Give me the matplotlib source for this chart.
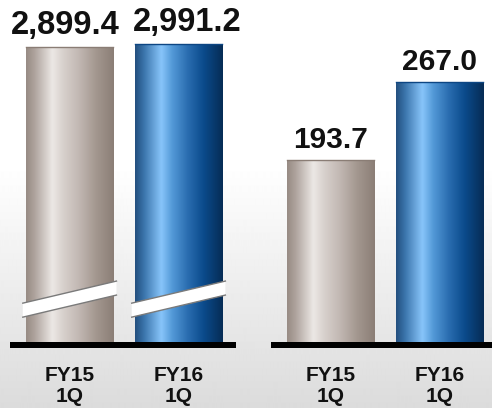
import numpy as np
import matplotlib
matplotlib.use("Agg")
import matplotlib.pyplot as plt
from matplotlib.colors import LinearSegmentedColormap
from matplotlib.patches import Polygon
from matplotlib.lines import Line2D
import matplotlib.transforms as mtransforms

# ---- data ----
categories = ["FY15\n1Q", "FY16\n1Q"]
left_values = [2899.4, 2991.2]     # broken-axis group
right_values = [193.7, 267.0]

# ---- style ----
plt.rcParams['font.family'] = ['Liberation Sans', 'DejaVu Sans']

gray_cmap = LinearSegmentedColormap.from_list("gray_cyl", [
    (0.00, '#978b84'), (0.10, '#afa49e'), (0.30, '#ece8e5'), (0.42, '#d8d1cd'),
    (0.60, '#c2b8b3'), (0.80, '#a3978f'), (1.00, '#8b7e76')])
blue_cmap = LinearSegmentedColormap.from_list("blue_cyl", [
    (0.00, '#234f7e'), (0.10, '#3a74ab'), (0.30, '#88c5fa'), (0.42, '#549ad8'),
    (0.60, '#2a6db0'), (0.78, '#0b4b8c'), (1.00, '#062c55')])
bar_cmaps = [gray_cmap, blue_cmap]
edge_cols = ['#8a7d75', '#0d4683']

W, H = 492, 408
fig = plt.figure(figsize=(W / 100, H / 100), dpi=100)

# background gradient
bg = fig.add_axes([0, 0, 1, 1], zorder=-10)
yy = np.arange(H)
shade = np.where(yy < 165, 1.0, 1.0 - (yy - 165) / (H - 165) * 0.14)
bg.imshow(np.tile(shade[:, None], (1, 2)), cmap='gray', vmin=0, vmax=1,
          aspect='auto', extent=[0, 1, 0, 1], interpolation='bilinear')
bg.set_axis_off()

ax_bottom = (H - 345) / H
ax_height = 345 / H
axL = fig.add_axes([13 / W, ax_bottom, 220 / W, ax_height])
axR = fig.add_axes([274 / W, ax_bottom, 220 / W, ax_height])

groups = [
    (axL, left_values, (-6220, 4337), True, 23.5, [-3, 6]),
    (axR, right_values, (19.8, 344.1), False, 21.5, [0, 0]),
]

x = np.arange(len(categories))
grad = np.linspace(0, 1, 256)[None, :]

for ax, vals, ylim, broken, fs, dxs in groups:
    ax.set_facecolor('none')
    base = ylim[0]
    bars = ax.bar(x, np.array(vals) - base, bottom=base, width=0.8,
                  color='none', edgecolor='none', zorder=2)
    for i, p in enumerate(bars.patches):
        x0, y0 = p.get_x(), p.get_y()
        x1, y1 = x0 + p.get_width(), y0 + p.get_height()
        im = ax.imshow(grad, cmap=bar_cmaps[i], aspect='auto',
                       extent=[x0, x1, y0, y1], interpolation='bicubic', zorder=2)
        im.set_clip_path(p)
        ax.add_line(Line2D([x0, x1], [y1, y1], color=edge_cols[i], lw=1.0, zorder=3))
        if broken:
            tr = mtransforms.blended_transform_factory(ax.transData, ax.transAxes)
            bx0, bx1 = x0 - 0.03, x1 + 0.03
            c, h, r = 0.133, 0.0203, 0.064
            up = [(bx0, c + h - r / 2), (bx1, c + h + r / 2)]
            lo = [(bx0, c - h - r / 2), (bx1, c - h + r / 2)]
            ax.add_patch(Polygon(up + lo[::-1], closed=True, transform=tr,
                                 facecolor='white', edgecolor='none', zorder=4,
                                 clip_on=False))
            for seg in (up, lo):
                ax.add_line(Line2D([s[0] for s in seg], [s[1] for s in seg],
                                   transform=tr, color='#7a7a7a', lw=1.0,
                                   zorder=5, clip_on=False))
        ax.annotate(f"{vals[i]:,.1f}", xy=(x[i], vals[i]), xytext=(dxs[i], 9),
                    textcoords='offset points', ha='center', va='baseline',
                    fontsize=fs, fontweight='bold', color='#111111',
                    annotation_clip=False)

    ax.set_xlim(-0.52, 1.5)
    ax.set_ylim(*ylim)
    for s in ('top', 'left', 'right'):
        ax.spines[s].set_visible(False)
    ax.spines['bottom'].set_linewidth(4.32)
    ax.spines['bottom'].set_color('black')
    ax.spines['bottom'].set_zorder(6)
    ax.set_yticks([])
    ax.set_xticks(x)
    ax.set_xticklabels(categories, fontsize=15, fontweight='bold',
                       color='#111111', linespacing=1.12)
    ax.tick_params(axis='x', length=0, pad=15)

fig.savefig("out.png", dpi=100)
